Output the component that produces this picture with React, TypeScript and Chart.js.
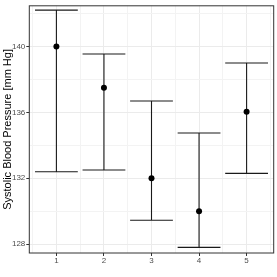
import React, { useEffect, useRef } from 'react';
import { Chart, registerables } from 'chart.js';

Chart.register(...registerables);

const groups = [1, 2, 3, 4, 5];
const means = [140.0, 137.5, 132.0, 130.0, 136.05];
const lowerCI = [132.4, 132.5, 129.45, 127.8, 132.3];
const upperCI = [142.22, 139.55, 136.7, 134.75, 139.0];
const xGridValues = [0.5, 1, 1.5, 2, 2.5, 3, 3.5, 4, 4.5, 5, 5.5];
const yGridValues = [128, 130, 132, 134, 136, 138, 140, 142];
const yTickLabels = [128, 132, 136, 140];
const yTitle = 'Systolic Blood Pressure [mm Hg]';

const FONT = "'Liberation Sans', Arial, sans-serif";

const errorBarPlugin = {
  id: 'errorBars',
  beforeDatasetsDraw(chart: any) {
    const { ctx, scales } = chart;
    const x = scales.x;
    const y = scales.y;
    ctx.save();
    ctx.strokeStyle = '#1a1a1a';
    ctx.lineWidth = 1.1;
    groups.forEach((g, i) => {
      const cx = x.getPixelForValue(g);
      const x0 = x.getPixelForValue(g - 0.45);
      const x1 = x.getPixelForValue(g + 0.45);
      const yl = y.getPixelForValue(lowerCI[i]);
      const yu = y.getPixelForValue(upperCI[i]);
      ctx.beginPath();
      ctx.moveTo(cx, yu);
      ctx.lineTo(cx, yl);
      ctx.moveTo(x0, yu);
      ctx.lineTo(x1, yu);
      ctx.moveTo(x0, yl);
      ctx.lineTo(x1, yl);
      ctx.stroke();
    });
    ctx.restore();
  },
  afterDraw(chart: any) {
    const { ctx, chartArea } = chart;
    ctx.save();
    ctx.strokeStyle = '#333333';
    ctx.lineWidth = 1;
    ctx.strokeRect(chartArea.left, chartArea.top, chartArea.right - chartArea.left, chartArea.bottom - chartArea.top);
    ctx.restore();
  },
};

export default function App() {
  const ref = useRef<HTMLCanvasElement | null>(null);
  useEffect(() => {
    if (!ref.current) return;
    const chart = new Chart(ref.current, {
      type: 'scatter',
      data: {
        datasets: [
          {
            data: groups.map((g, i) => ({ x: g, y: means[i] })),
            pointRadius: 3,
            pointHoverRadius: 3,
            backgroundColor: '#000000',
            borderWidth: 0,
          },
        ],
      },
      options: {
        animation: false,
        responsive: false,
        maintainAspectRatio: false,
        events: [],
        layout: { padding: { top: 3, right: 3.3, left: 0, bottom: 0 } },
        plugins: { legend: { display: false }, tooltip: { enabled: false } },
        scales: {
          x: {
            type: 'linear',
            min: 0.43,
            max: 5.57,
            afterBuildTicks: (s: any) => {
              s.ticks = xGridValues.map((v) => ({ value: v }));
            },
            afterFit: (s: any) => {
              s.height = 24;
            },
            ticks: {
              autoSkip: false,
              maxRotation: 0,
              padding: 0,
              color: '#4d4d4d',
              font: { family: FONT, size: 8 },
              callback: (v: any) => (Number.isInteger(v) ? String(v) : ''),
            },
            grid: {
              color: (c: any) => (c.tick && Number.isInteger(c.tick.value) ? '#ebebeb' : '#f3f3f3'),
              lineWidth: 1,
              tickLength: 3,
              tickColor: (c: any) => (c.tick && Number.isInteger(c.tick.value) ? '#333333' : 'rgba(0,0,0,0)'),
            },
            border: { display: false },
          },
          y: {
            type: 'linear',
            min: 127.46,
            max: 142.48,
            afterBuildTicks: (s: any) => {
              s.ticks = yGridValues.map((v) => ({ value: v }));
            },
            afterFit: (s: any) => {
              s.width = 29.3;
            },
            ticks: {
              autoSkip: false,
              padding: 1,
              color: '#4d4d4d',
              font: { family: FONT, size: 8 },
              callback: (v: any) => (yTickLabels.includes(v) ? String(v) : ''),
            },
            grid: {
              color: (c: any) => (c.tick && yTickLabels.includes(c.tick.value) ? '#ebebeb' : '#f3f3f3'),
              lineWidth: 1,
              tickLength: 3,
              tickColor: (c: any) => (c.tick && yTickLabels.includes(c.tick.value) ? '#333333' : 'rgba(0,0,0,0)'),
            },
            border: { display: false },
            title: {
              display: true,
              text: yTitle,
              color: '#000000',
              font: { family: FONT, size: 11 },
              padding: { top: 1, bottom: 0 },
            },
          },
        },
      },
      plugins: [errorBarPlugin],
    });
    return () => chart.destroy();
  }, []);
  return (
    <div style={{ position: 'fixed', left: 0, top: 0, width: 277, height: 277, background: '#ffffff' }}>
      <canvas ref={ref} width={277} height={277} style={{ width: 277, height: 277, display: 'block' }} />
    </div>
  );
}
